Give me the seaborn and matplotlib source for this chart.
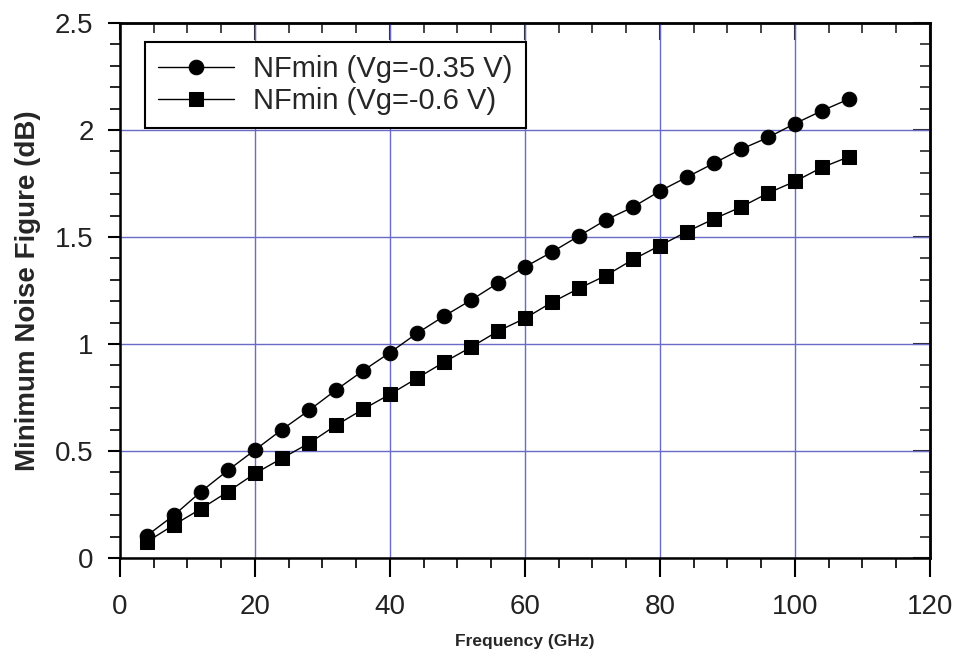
import numpy as np
import pandas as pd
import matplotlib
matplotlib.use("Agg")
import matplotlib.pyplot as plt
import seaborn as sns
from matplotlib.ticker import MultipleLocator

freq = [4, 8, 12, 16, 20, 24, 28, 32, 36, 40, 44, 48, 52, 56, 60, 64, 68, 72,
        76, 80, 84, 88, 92, 96, 100, 104, 108]
nf_035 = [0.105, 0.20, 0.31, 0.41, 0.505, 0.60, 0.69, 0.785, 0.875, 0.96, 1.05,
          1.13, 1.205, 1.285, 1.36, 1.43, 1.505, 1.58, 1.64, 1.715, 1.78, 1.845,
          1.91, 1.965, 2.03, 2.09, 2.145]
nf_06 = [0.076, 0.155, 0.23, 0.31, 0.395, 0.466, 0.536, 0.62, 0.695, 0.765, 0.84,
         0.915, 0.985, 1.06, 1.12, 1.195, 1.26, 1.32, 1.395, 1.46, 1.525, 1.585,
         1.64, 1.705, 1.76, 1.825, 1.875]
labels = ["NFmin (Vg=-0.35 V)", "NFmin (Vg=-0.6 V)"]

df = pd.concat([
    pd.DataFrame({"f": freq, "nf": nf_035, "s": labels[0]}),
    pd.DataFrame({"f": freq, "nf": nf_06, "s": labels[1]}),
])

sns.set_theme(style="white")
plt.rcParams["font.family"] = ["Liberation Sans", "DejaVu Sans"]

fig = plt.figure(figsize=(9.62, 6.62), dpi=100)
ax = fig.add_axes([120 / 962, 1 - 558 / 662, 810 / 962, 535 / 662])

sns.lineplot(data=df, x="f", y="nf", hue="s", style="s", markers=["o", "s"],
             dashes=False, palette=["black", "black"], markersize=10.5,
             markeredgecolor="black", linewidth=1.0, ax=ax, legend=True)

ax.set_xlim(0, 120)
ax.set_ylim(0, 2.5)
ax.xaxis.set_major_locator(MultipleLocator(20))
ax.xaxis.set_minor_locator(MultipleLocator(5))
ax.yaxis.set_minor_locator(MultipleLocator(0.1))
ax.set_yticks([0, 0.5, 1, 1.5, 2, 2.5])
ax.set_yticklabels(["0", "0.5", "1", "1.5", "2", "2.5"])

ax.grid(True, which="major", color="#6a6ac8", linewidth=1.0)
ax.set_axisbelow(True)
for sp in ax.spines.values():
    sp.set_visible(True)
    sp.set_color("black")
    sp.set_linewidth(1.8)

ax.tick_params(axis="x", which="both", bottom=True, top=False)
ax.tick_params(axis="y", which="both", left=True, right=False)
ax.tick_params(axis="x", which="major", direction="out", length=14, width=1.5,
               labelsize=20, colors="black", labelcolor="#222222", pad=12)
ax.tick_params(axis="x", which="minor", direction="out", length=7, width=1.2,
               colors="black")
ax.tick_params(axis="y", which="major", direction="out", length=9, width=1.5,
               labelsize=20, colors="black", labelcolor="#222222", pad=10)
ax.tick_params(axis="y", which="minor", direction="out", length=7, width=1.2,
               colors="black")

sec_x = ax.secondary_xaxis("top")
sec_x.xaxis.set_major_locator(MultipleLocator(20))
sec_x.xaxis.set_minor_locator(MultipleLocator(5))
sec_x.tick_params(which="both", top=True)
sec_x.tick_params(which="major", direction="in", length=12, width=1.5, labeltop=False)
sec_x.tick_params(which="minor", direction="in", length=7, width=1.2)
sec_x.spines["top"].set_linewidth(1.8)
sec_y = ax.secondary_yaxis("right")
sec_y.yaxis.set_major_locator(MultipleLocator(0.5))
sec_y.yaxis.set_minor_locator(MultipleLocator(0.1))
sec_y.tick_params(which="both", right=True)
sec_y.tick_params(which="major", direction="in", length=12, width=1.5, labelright=False)
sec_y.tick_params(which="minor", direction="in", length=7, width=1.2)
sec_y.spines["right"].set_linewidth(1.8)

ax.set_xlabel("Frequency (GHz)", fontsize=12.5, fontweight="bold",
              family=["Liberation Sans Narrow", "Liberation Sans", "DejaVu Sans"],
              labelpad=10)
ax.set_ylabel("Minimum Noise Figure (dB)", fontsize=20, fontweight="bold",
              family=["Liberation Sans Narrow", "Liberation Sans", "DejaVu Sans"],
              labelpad=10)

handles, lbls = ax.get_legend_handles_labels()
leg = ax.legend(handles=handles, labels=lbls, loc="upper left",
                bbox_to_anchor=(0.031, 0.965), fontsize=21, frameon=True,
                fancybox=False, edgecolor="black", framealpha=1,
                handlelength=2.6, borderpad=0.45, labelspacing=0.15,
                handletextpad=0.65, borderaxespad=0)
leg.get_frame().set_linewidth(1.5)
for h in leg.legend_handles:
    h.set_markersize(10.5)

fig.savefig("out.png", dpi=100)
